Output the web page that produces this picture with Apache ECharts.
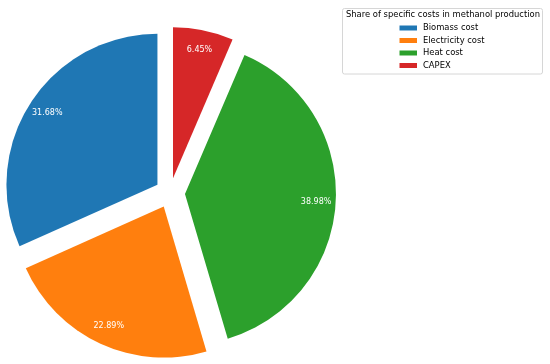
<!DOCTYPE html>
<html>
<head>
<meta charset="utf-8">
<script src="https://cdn.jsdelivr.net/npm/echarts@6/dist/echarts.min.js"></script>
<style>html,body{margin:0;padding:0;background:#fff;}#chart{width:550px;height:364px;}</style>
</head>
<body>
<div id="chart"></div>
<script>
const categories = ['Biomass cost', 'Electricity cost', 'Heat cost', 'CAPEX'];
const values = [31.68, 22.89, 38.98, 6.45];
const colors = ['#1f77b4', '#ff7f0e', '#2ca02c', '#d62728'];
const legendTitle = 'Share of specific costs in methanol production';

const R = 151;
const center = [170, 193];
const offset = 15;

const mainData = categories.map((c, i) => ({
  name: c, value: values[i], selected: true,
  itemStyle: { color: colors[i] }
}));
const labelData = categories.map((c, i) => ({
  name: c, value: values[i], selected: true,
  itemStyle: { color: 'rgba(0,0,0,0)' }
}));

const chart = echarts.init(document.getElementById('chart'), null, { renderer: 'canvas' });
chart.setOption({
  animation: false,
  backgroundColor: '#fff',
  graphic: [{
    type: 'rect',
    shape: { x: 342.5, y: 8.5, width: 200, height: 65.5, r: 2 },
    style: { fill: '#fff', stroke: '#d6d6d6', lineWidth: 1 },
    z: 0
  }],
  title: {
    text: legendTitle,
    left: 341, top: 6,
    textStyle: { fontFamily: 'DejaVu Sans', fontSize: 8.4, fontWeight: 'normal', color: '#000' }
  },
  legend: {
    orient: 'vertical',
    left: 394.5, top: 18,
    data: categories,
    icon: 'rect',
    itemWidth: 17.5, itemHeight: 5,
    itemGap: 2.5,
    selectedMode: false,
    textStyle: { fontFamily: 'DejaVu Sans', fontSize: 8.4, color: '#000', lineHeight: 10, padding: [0, 0, 0, 1] }
  },
  series: [{
    type: 'pie',
    center: center,
    radius: [0, R],
    startAngle: 90,
    clockwise: false,
    selectedMode: 'multiple',
    selectedOffset: offset,
    avoidLabelOverlap: false,
    label: { show: false },
    labelLine: { show: false },
    itemStyle: { borderWidth: 0 },
    emphasis: { disabled: true },
    silent: true,
    data: mainData
  }, {
    type: 'pie',
    center: center,
    radius: [R * 0.7, R],
    startAngle: 90,
    clockwise: false,
    selectedMode: 'multiple',
    selectedOffset: offset,
    avoidLabelOverlap: false,
    legendHoverLink: false,
    label: {
      show: true, position: 'inside',
      formatter: p => p.value.toFixed(2) + '%',
      fontFamily: 'DejaVu Sans', fontSize: 8, color: '#fff'
    },
    labelLine: { show: false },
    itemStyle: { borderWidth: 0 },
    emphasis: { disabled: true },
    silent: true,
    z: 3,
    data: labelData
  }]
});
</script>
</body>
</html>
